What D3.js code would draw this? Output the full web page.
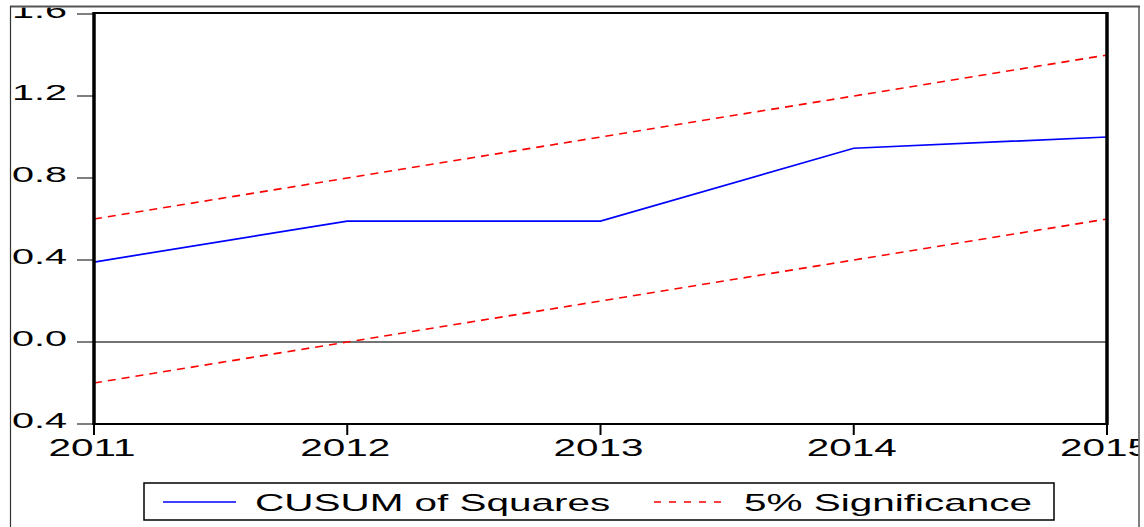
<!DOCTYPE html>
<html>
<head>
<meta charset="utf-8">
<script src="https://cdn.jsdelivr.net/npm/d3@7"></script>
<style>
  html, body { margin: 0; padding: 0; background: #fff; }
  svg { display: block; }
  text { font-family: "Liberation Sans", Arial, sans-serif; fill: #000; }
</style>
</head>
<body>
<svg id="chart" width="1144" height="527"></svg>
<script>
// Data
var years = [2011, 2012, 2013, 2014, 2015];
var cusumSq = [0.39, 0.59, 0.59, 0.945, 1.0];
var upperBound = [0.6, 0.8, 1.0, 1.2, 1.4];
var lowerBound = [-0.2, 0.0, 0.2, 0.4, 0.6];
var yTicks = [-0.4, 0.0, 0.4, 0.8, 1.2, 1.6];
var legendLabels = ["CUSUM of Squares", "5% Significance"];

var svg = d3.select("#chart");
var stretch = 1.76; // text in the picture is drawn wide

// Plot area
var plotLeft = 94, plotRight = 1107, plotTop = 14, plotBottom = 424;

var x = d3.scaleLinear().domain([2011, 2015]).range([plotLeft, plotRight]);
var y = d3.scaleLinear().domain([-0.4, 1.6]).range([plotBottom, plotTop]);

svg.append("defs").append("clipPath").attr("id", "frameClip")
  .append("rect").attr("x", 10.5).attr("y", 7.5).attr("width", 1128).attr("height", 520);

var g = svg.append("g").attr("clip-path", "url(#frameClip)");

// zero line
g.append("line")
  .attr("x1", plotLeft).attr("x2", plotRight)
  .attr("y1", y(0)).attr("y2", y(0))
  .attr("stroke", "#444").attr("stroke-width", 1.3);

var line = d3.line()
  .x(function(d, i) { return x(years[i]); })
  .y(function(d) { return y(d); });

// significance bounds
[upperBound, lowerBound].forEach(function(b) {
  g.append("path")
    .datum(b)
    .attr("d", line)
    .attr("fill", "none")
    .attr("stroke", "#ff0000")
    .attr("stroke-width", 1.6)
    .attr("stroke-dasharray", "8,6");
});

// CUSUM of squares
g.append("path")
  .datum(cusumSq)
  .attr("d", line)
  .attr("fill", "none")
  .attr("stroke", "#0000ff")
  .attr("stroke-width", 1.7);

// y ticks and labels
yTicks.forEach(function(t) {
  g.append("line")
    .attr("x1", 77).attr("x2", plotLeft)
    .attr("y1", y(t)).attr("y2", y(t))
    .attr("stroke", "#555").attr("stroke-width", 1.3);
  g.append("text")
    .attr("transform", "translate(67," + (y(t) + 4) + ") scale(" + stretch + ",1)")
    .attr("text-anchor", "end")
    .attr("font-size", 22.5)
    .text(d3.format(".1f")(t));
});

// x ticks and labels
years.forEach(function(yr) {
  g.append("line")
    .attr("x1", x(yr)).attr("x2", x(yr))
    .attr("y1", plotBottom).attr("y2", plotBottom + 11)
    .attr("stroke", "#000").attr("stroke-width", 2);
  g.append("text")
    .attr("transform", "translate(" + (x(yr) - 2) + ",456) scale(" + stretch + ",1)")
    .attr("text-anchor", "middle")
    .attr("font-size", 23)
    .text(yr);
});

// plot frame
g.append("line").attr("x1", plotLeft).attr("x2", plotRight).attr("y1", plotTop - 1).attr("y2", plotTop - 1)
  .attr("stroke", "#000").attr("stroke-width", 2);
g.append("line").attr("x1", plotLeft).attr("x2", plotRight).attr("y1", plotBottom).attr("y2", plotBottom)
  .attr("stroke", "#000").attr("stroke-width", 2);
g.append("line").attr("x1", plotLeft).attr("x2", plotLeft).attr("y1", plotTop - 2).attr("y2", plotBottom + 1)
  .attr("stroke", "#000").attr("stroke-width", 3.5);
g.append("line").attr("x1", plotRight).attr("x2", plotRight).attr("y1", plotTop - 2).attr("y2", plotBottom + 1)
  .attr("stroke", "#000").attr("stroke-width", 3.5);

// legend
var leg = g.append("g");
leg.append("rect")
  .attr("x", 144).attr("y", 483).attr("width", 910).attr("height", 37)
  .attr("fill", "#fff").attr("stroke", "#000").attr("stroke-width", 1.5);
leg.append("line").attr("x1", 163).attr("x2", 236).attr("y1", 502).attr("y2", 502)
  .attr("stroke", "#0000ff").attr("stroke-width", 1.6);
leg.append("text")
  .attr("transform", "translate(255,511) scale(" + stretch + ",1)")
  .attr("font-size", 23)
  .text(legendLabels[0]);
leg.append("line").attr("x1", 654).attr("x2", 727).attr("y1", 502).attr("y2", 502)
  .attr("stroke", "#ff0000").attr("stroke-width", 1.5).attr("stroke-dasharray", "7,8");
leg.append("text")
  .attr("transform", "translate(744,511) scale(" + stretch + ",1)")
  .attr("font-size", 23)
  .text(legendLabels[1]);

// outer frame
svg.append("line").attr("x1", 10).attr("x2", 1140).attr("y1", 6.5).attr("y2", 6.5)
  .attr("stroke", "#555").attr("stroke-width", 2);
svg.append("line").attr("x1", 10.5).attr("x2", 10.5).attr("y1", 6).attr("y2", 527)
  .attr("stroke", "#333").attr("stroke-width", 1.2);
svg.append("line").attr("x1", 1139).attr("x2", 1139).attr("y1", 6).attr("y2", 527)
  .attr("stroke", "#555").attr("stroke-width", 1.5);
</script>
</body>
</html>
